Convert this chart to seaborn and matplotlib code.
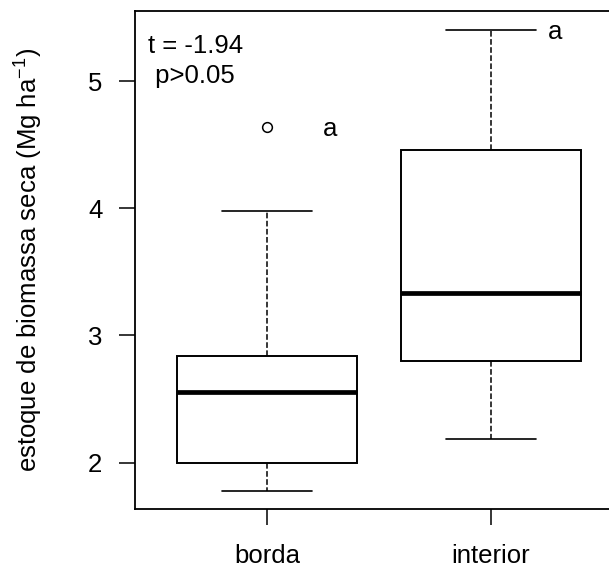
import matplotlib
matplotlib.use("Agg")
import matplotlib.pyplot as plt
import seaborn as sns
import pandas as pd

# estimated observations read off the boxes (9 per site)
borda = [1.775, 1.90, 2.00, 2.30, 2.558, 2.70, 2.839, 3.979, 4.641]
interior = [2.184, 2.50, 2.80, 3.10, 3.332, 3.90, 4.458, 4.90, 5.40]
sites = ["borda", "interior"]
y_ticks = [2, 3, 4, 5]
stat_lines = ["t = -1.94", " p>0.05"]
letters = ["a", "a"]

df = pd.DataFrame({
    "local": [sites[0]] * len(borda) + [sites[1]] * len(interior),
    "biomassa": borda + interior,
})

sns.set_style("white")
plt.rcParams["font.family"] = ["Liberation Sans", "DejaVu Sans"]
plt.rcParams["text.color"] = "black"
plt.rcParams["axes.labelcolor"] = "black"
plt.rcParams["mathtext.fontset"] = "custom"
plt.rcParams["mathtext.rm"] = "Liberation Sans"
plt.rcParams["mathtext.it"] = "Liberation Sans"

fig = plt.figure(figsize=(6.09, 5.69), dpi=100)
# right side of the frame falls outside the picture, like the original crop
ax = fig.add_axes([135 / 609, 1 - 509 / 569, 486 / 609, 498 / 569])

sns.boxplot(data=df, x="local", y="biomassa", order=sites, width=0.8,
            color="white", linecolor="black", linewidth=1.4,
            whiskerprops=dict(linestyle="--", linewidth=1.1),
            capprops=dict(linewidth=1.2),
            medianprops=dict(linewidth=3.4, color="black"),
            flierprops=dict(marker="o", markerfacecolor="none",
                            markeredgecolor="black", markeredgewidth=1.1),
            fliersize=7, ax=ax)

ax.set_xlim(-0.589, 1.58)
ax.set_ylim(1.636, 5.551)
ax.set_yticks(y_ticks)
ax.set_yticklabels([str(t) for t in y_ticks])

for side in ["left", "right", "top", "bottom"]:
    ax.spines[side].set_visible(True)
    ax.spines[side].set_color("black")
    ax.spines[side].set_linewidth(1.3)

ax.tick_params(axis="both", which="major", direction="out", length=11.5,
               width=1.1, color="black", labelsize=18.5, labelcolor="black",
               left=True, bottom=True)
ax.tick_params(axis="y", pad=12)
ax.tick_params(axis="x", pad=14)

ax.set_xlabel("")
ax.set_ylabel("estoque de biomassa seca (Mg ha$^{-1}$)", fontsize=18.5,
              color="black")
ax.yaxis.set_label_coords(-0.185, 0.5)

ax.text(-0.531, 5.221, stat_lines[0], fontsize=18.5, va="baseline", ha="left")
ax.text(-0.531, 4.985, stat_lines[1], fontsize=18.5, va="baseline", ha="left")
ax.text(0.25, 4.568, letters[0], fontsize=18.5, va="baseline", ha="left")
ax.text(1.254, 5.331, letters[1], fontsize=18.5, va="baseline", ha="left")

fig.savefig("out.png", dpi=100, facecolor="white")
